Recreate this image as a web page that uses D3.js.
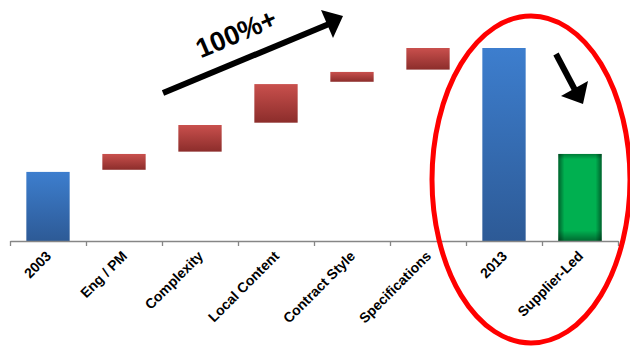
<!DOCTYPE html>
<html>
<head>
<meta charset="utf-8">
<script src="https://cdn.jsdelivr.net/npm/d3@7/dist/d3.min.js"></script>
<style>
  html, body { margin: 0; padding: 0; background: #fff; }
  svg { display: block; }
</style>
</head>
<body>
<svg id="chart" width="630" height="349"></svg>
<script>
// ---- Data ----
const categories = ["2003", "Eng / PM", "Complexity", "Local Content", "Contract Style", "Specifications", "2013", "Supplier-Led"];
const startValues = [0, 36.9, 46.3, 61.3, 82.5, 88.8, 0, 0];
const endValues   = [35.8, 45.1, 60.1, 81.3, 87.6, 100, 100, 45.1];
const barTypes    = ["total", "increase", "increase", "increase", "increase", "increase", "total", "target"];
const annotationText = "100%+";

const data = categories.map((c, i) => ({ cat: c, start: startValues[i], end: endValues[i], type: barTypes[i] }));

const svg = d3.select("#chart");
const W = 630, H = 349;

// ---- Scales ----
const x = d3.scaleBand().domain(categories).range([10, 618]).paddingInner(0.43).paddingOuter(0.215);
const xIdx = d3.scaleLinear().domain([0, categories.length]).range([10, 618]);
const y = d3.scaleLinear().domain([0, 100]).range([241, 48]);

// ---- Gradients ----
const defs = svg.append("defs");
function vGrad(id, top, bottom) {
  const g = defs.append("linearGradient").attr("id", id).attr("x1", 0).attr("y1", 0).attr("x2", 0).attr("y2", 1);
  g.append("stop").attr("offset", "0%").attr("stop-color", top);
  g.append("stop").attr("offset", "100%").attr("stop-color", bottom);
}
vGrad("gBlue", "#3D7ECE", "#2D5A96");
vGrad("gRed", "#C9504D", "#8C2D2B");
const gh = defs.append("linearGradient").attr("id", "gShadeH").attr("x1", 0).attr("y1", 0).attr("x2", 1).attr("y2", 0);
[[0, 0.45], [0.14, 0], [0.86, 0], [1, 0.45]].forEach(s => gh.append("stop").attr("offset", s[0]).attr("stop-color", "#000").attr("stop-opacity", s[1]));
const gv = defs.append("linearGradient").attr("id", "gShadeV").attr("x1", 0).attr("y1", 0).attr("x2", 0).attr("y2", 1);
[[0, 0.3], [0.06, 0], [0.88, 0], [1, 0.4]].forEach(s => gv.append("stop").attr("offset", s[0]).attr("stop-color", "#000").attr("stop-opacity", s[1]));

const fillFor = t => t === "total" ? "url(#gBlue)" : t === "increase" ? "url(#gRed)" : "#00B050";

// ---- Bars ----
const bars = svg.append("g").selectAll("g").data(data).join("g");
bars.append("rect")
  .attr("x", d => x(d.cat))
  .attr("width", x.bandwidth())
  .attr("y", d => y(d.end))
  .attr("height", d => y(d.start) - y(d.end))
  .attr("fill", d => fillFor(d.type));
bars.filter(d => d.type === "target").each(function (d) {
  const g = d3.select(this);
  ["url(#gShadeH)", "url(#gShadeV)"].forEach(f =>
    g.append("rect")
      .attr("x", x(d.cat)).attr("width", x.bandwidth())
      .attr("y", y(d.end)).attr("height", y(d.start) - y(d.end))
      .attr("fill", f));
});

// ---- Axis ----
const axisG = svg.append("g").attr("transform", `translate(0,${y(0)})`)
  .call(d3.axisBottom(xIdx).tickValues(d3.range(categories.length + 1)).tickSize(5).tickSizeOuter(0).tickFormat(""));
axisG.select(".domain").attr("stroke", "#868686").attr("stroke-width", 1.3);
axisG.selectAll(".tick line").attr("stroke", "#868686").attr("stroke-width", 1.3);

// ---- Category labels ----
svg.append("g").selectAll("text").data(categories).join("text")
  .attr("transform", c => `translate(${x(c) + x.bandwidth() / 2 + 4},257) rotate(-45)`)
  .attr("text-anchor", "end")
  .attr("font-family", "'Liberation Sans', Arial, sans-serif")
  .attr("font-weight", "bold")
  .attr("font-size", 14)
  .attr("fill", "#000")
  .text(c => c);

// ---- Annotations ----
const ann = svg.append("g");
// rising arrow
ann.append("line").attr("x1", 163).attr("y1", 93).attr("x2", 329).attr("y2", 24)
  .attr("stroke", "#000").attr("stroke-width", 6);
ann.append("polygon").attr("points", "343,16 321,10 333,38").attr("fill", "#000");
ann.append("text")
  .attr("transform", "translate(236,33) rotate(-23)")
  .attr("text-anchor", "middle").attr("dy", "0.36em")
  .attr("font-family", "'Liberation Sans', Arial, sans-serif")
  .attr("font-weight", "bold").attr("font-size", 27)
  .attr("fill", "#000")
  .text(annotationText);
// falling arrow
ann.append("line").attr("x1", 556).attr("y1", 54).attr("x2", 575).attr("y2", 90)
  .attr("stroke", "#000").attr("stroke-width", 6);
ann.append("polygon").attr("points", "583,104 561,96 588,81").attr("fill", "#000");
// red ellipse
ann.append("ellipse").attr("cx", 531).attr("cy", 179.5).attr("rx", 99).attr("ry", 163.5)
  .attr("fill", "none").attr("stroke", "#FF0000").attr("stroke-width", 5);
</script>
</body>
</html>
